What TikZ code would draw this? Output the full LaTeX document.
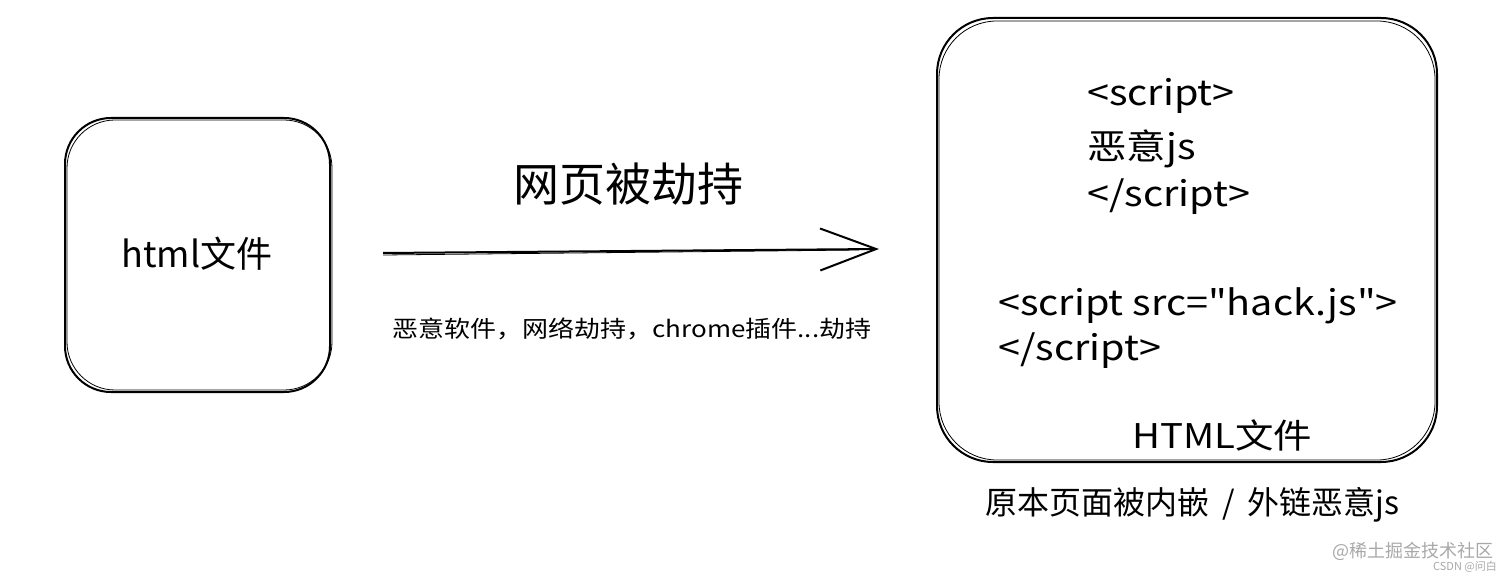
\documentclass[tikz,border=0pt]{standalone}
\usepackage{fontspec}
\setmainfont{Noto Sans CJK SC}[Ligatures=TeXOff]
\newfontfamily\codef{Noto Sans CJK SC}[FakeStretch=1.13, Ligatures=TeXOff]
\usetikzlibrary{arrows.meta,positioning}
\definecolor{wm}{HTML}{A8A8A8}
\tikzset{
  sketchbox/.style={draw=black, line width=2pt},
  sketchline/.style={draw=black, line width=0.8pt},
  txt/.style={inner sep=0pt, anchor=base west, text=black},
  ctxt/.style={inner sep=0pt, anchor=base, text=black},
  fs/.style={font=\fontsize{#1pt}{#1pt}\selectfont},
  cfs/.style={font=\codef\fontsize{#1pt}{#1pt}\selectfont},
}
\begin{document}
\begin{tikzpicture}[x=1pt,y=-1pt]
\useasboundingbox (0,0) rectangle (1512,577);
% left box
\draw[sketchbox, rounded corners=46pt] (65,118) rectangle (330,392);
\draw[sketchline, rounded corners=48pt] (67,120) rectangle (332,390);
\node[ctxt, fs=36] (lbl) at (197,268) {html文件};
% right box
\draw[sketchbox, rounded corners=56pt] (937,18) rectangle (1437,462);
\draw[sketchline, rounded corners=58pt] (939,21) rectangle (1435,460);
% arrow
\coordinate (as) at (383,253);
\coordinate (ae) at (879,249);
\draw[line width=2pt, -{Straight Barb[length=56pt,width=42pt,line width=2pt]}] (as) -- (ae);
\draw[line width=0.8pt] ([yshift=-2pt]as) -- ([yshift=-1pt,xshift=-20pt]ae);
\node[ctxt, fs=46] (title) at (628,202) {网页被劫持};
\node[ctxt, cfs=23] (sub) at (632,337) {恶意软件，网络劫持，chrome插件...劫持};
% code
\node[txt, cfs=35] (c1) at (1087,106) {<script>};
\node[txt, cfs=35] (c2) at (1087,160) {恶意js};
\node[txt, cfs=35] (c3) at (1087,207) {</script>};
\node[txt, cfs=35] (c4) at (998,316) {<script src="hack.js">};
\node[txt, cfs=35] (c5) at (998,360) {</script>};
\node[txt, cfs=34] (rlbl) at (1132,448) {HTML文件};
\node[txt, fs=32] (cap) at (985,514) {原本页面被内嵌\hspace{13pt}/\hspace{13pt}外链恶意js};
% watermark
\node[inner sep=0pt, anchor=base east, text=wm, fs=18] (wm1) at (1494,557) {@稀土掘金技术社区};
\node[inner sep=0pt, anchor=base east, text=wm, fs=11] (wm2) at (1497,570) {CSDN @问白};
\end{tikzpicture}
\end{document}
